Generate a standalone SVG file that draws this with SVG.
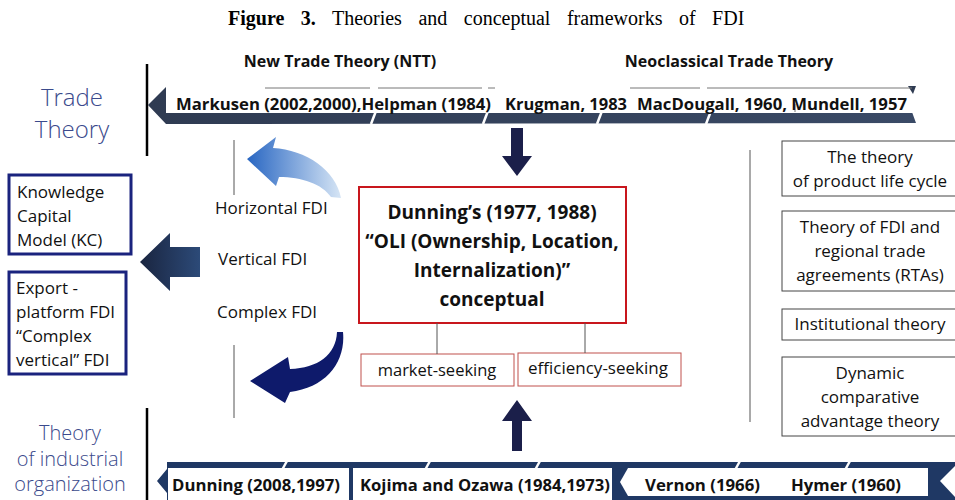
<svg xmlns="http://www.w3.org/2000/svg" width="955" height="500" viewBox="0 0 955 500">
<defs>
<style>
.t{font-family:"Open Sans","Noto Sans","Liberation Sans",sans-serif;fill:#111}
.b{font-weight:bold}
.lab{font-size:17px}
.side{font-family:"Open Sans","Noto Sans","Liberation Sans",sans-serif;fill:#3b4a8c;font-weight:300}
.rbox{fill:#fff;stroke:#444;stroke-width:1}
.bbox{fill:#fff;stroke:#1a237e;stroke-width:3}
.sbox{fill:#fff;stroke:#c0504d;stroke-width:1}
.thin{stroke:#555;stroke-width:1}
.blk{stroke:#000;stroke-width:2.5}
</style>
<linearGradient id="gLight" x1="0" y1="0" x2="1" y2="0">
<stop offset="0" stop-color="#2866c2"/>
<stop offset="1" stop-color="#d6e5f5"/>
</linearGradient>
<linearGradient id="gDark" x1="0" y1="0" x2="1" y2="0">
<stop offset="0" stop-color="#1a2540"/>
<stop offset="1" stop-color="#2c4a78"/>
</linearGradient>
<linearGradient id="gTop" x1="0" y1="0" x2="1" y2="0">
<stop offset="0" stop-color="#2f3b52"/>
<stop offset="1" stop-color="#3a4a66"/>
</linearGradient>
</defs>
<rect width="955" height="500" fill="#fff"/>

<!-- title -->
<text x="228" y="25" font-family="'Liberation Serif',serif" font-size="20" word-spacing="11.5" fill="#000"><tspan font-weight="bold">Figure 3.</tspan> Theories and conceptual frameworks of FDI</text>

<!-- side labels -->
<g id="trade-theory">
<line class="blk" x1="147" y1="64" x2="147" y2="156"/>
<text class="side" x="72" y="106" font-size="24" text-anchor="middle">Trade</text>
<text class="side" x="72" y="138" font-size="24" text-anchor="middle">Theory</text>
</g>
<g id="industrial-org">
<line class="blk" x1="147" y1="408" x2="147" y2="500"/>
<text class="side" x="70" y="440" font-size="20" text-anchor="middle">Theory</text>
<text class="side" x="70" y="466" font-size="20" text-anchor="middle">of industrial</text>
<text class="side" x="70" y="491" font-size="20" text-anchor="middle">organization</text>
</g>

<!-- headers -->
<text class="t b" x="340" y="67" font-size="16" text-anchor="middle">New Trade Theory (NTT)</text>
<text class="t b" x="729" y="67" font-size="16" text-anchor="middle">Neoclassical Trade Theory</text>

<!-- top banner -->
<g id="top-banner">
<polygon points="148,105 166,87 166,112 912,112 916,123 166,124" fill="url(#gTop)"/>
<rect x="166" y="88" width="750" height="25" fill="#fff"/>
<polygon points="908,86 916,86 913,94" fill="#2f3b52"/>
<g stroke="#fff" stroke-width="2.5">
<line x1="371" y1="124" x2="376" y2="111"/>
<line x1="483" y1="124" x2="488" y2="111"/>
<line x1="597" y1="124" x2="602" y2="111"/>
<line x1="706" y1="124" x2="711" y2="111"/>
</g>
<g stroke="#777" stroke-width="1">
<line x1="265" y1="88" x2="370" y2="88"/>
<line x1="378" y1="88" x2="482" y2="88"/>
<line x1="488" y1="88" x2="495" y2="88"/>
<line x1="630" y1="88" x2="700" y2="88"/>
<line x1="707" y1="88" x2="912" y2="88"/>
<line x1="795" y1="104" x2="795" y2="112"/>
</g>
<text class="t b" x="176" y="110" font-size="16.5" textLength="315" lengthAdjust="spacingAndGlyphs">Markusen (2002,2000),Helpman (1984)</text>
<text class="t b" x="505" y="110" font-size="16.5" textLength="122" lengthAdjust="spacingAndGlyphs">Krugman, 1983</text>
<text class="t b" x="637" y="110" font-size="16.5" textLength="270" lengthAdjust="spacingAndGlyphs">MacDougall, 1960, Mundell, 1957</text>
</g>

<!-- bottom banner -->
<g id="bottom-banner">
<polygon points="157,481 167,469 167,462 955,462 955,500 167,500 167,493" fill="#1f3864"/>
<polygon points="955,466 940,481 955,497" fill="#fff"/>
<rect x="168" y="468" width="181" height="32" fill="#fff"/>
<rect x="353" y="468" width="259" height="32" fill="#fff"/>
<polygon points="628,468 928,468 928,496 628,496 620,482" fill="#fff"/>
<polygon points="612,468 622,468 614,482 622,496 612,496 616,482" fill="#1f3864"/>
<g stroke="#fff" stroke-width="2.5">
<line x1="282" y1="470" x2="287" y2="461"/>
<line x1="425" y1="470" x2="430" y2="461"/>
<line x1="535" y1="470" x2="540" y2="461"/>
<line x1="735" y1="470" x2="740" y2="461"/>
<line x1="845" y1="470" x2="850" y2="461"/>
</g>
<text class="t b" x="172" y="491" font-size="16.5" textLength="168" lengthAdjust="spacingAndGlyphs">Dunning (2008,1997)</text>
<text class="t b" x="360" y="491" font-size="16.5" textLength="250" lengthAdjust="spacingAndGlyphs">Kojima and Ozawa (1984,1973)</text>
<text class="t b" x="645" y="491" font-size="16.5" textLength="115" lengthAdjust="spacingAndGlyphs">Vernon (1966)</text>
<text class="t b" x="791" y="491" font-size="16.5" textLength="110" lengthAdjust="spacingAndGlyphs">Hymer (1960)</text>
</g>

<!-- left boxes -->
<g id="kc">
<rect class="bbox" x="9" y="175" width="122" height="79"/>
<text class="t" x="17" y="198" font-size="17">Knowledge</text>
<text class="t" x="17" y="222" font-size="17">Capital</text>
<text class="t" x="17" y="246" font-size="17">Model (KC)</text>
</g>
<g id="export">
<rect class="bbox" x="9" y="272" width="117" height="102"/>
<text class="t" x="16" y="294" font-size="17">Export -</text>
<text class="t" x="16" y="318" font-size="17">platform FDI</text>
<text class="t" x="16" y="342" font-size="17">“Complex</text>
<text class="t" x="16" y="366" font-size="17">vertical” FDI</text>
</g>

<!-- FDI types -->
<g id="fdi-types">
<text class="t lab" x="215" y="214">Horizontal FDI</text>
<text class="t lab" x="218" y="265">Vertical FDI</text>
<text class="t lab" x="217" y="318">Complex FDI</text>
</g>

<!-- central box -->
<g id="oli">
<rect x="359" y="187" width="267" height="136" fill="#fff" stroke="#c8161d" stroke-width="2"/>
<g class="t b" font-size="19" text-anchor="middle">
<text x="492" y="219">Dunning’s (1977, 1988)</text>
<text x="492" y="248">“OLI (Ownership, Location,</text>
<text x="492" y="277">Internalization)”</text>
<text x="492" y="306">conceptual</text>
</g>
</g>
<g id="market-seeking">
<rect class="sbox" x="361" y="354" width="153" height="32"/>
<text class="t" x="437" y="376" font-size="16.5" text-anchor="middle">market-seeking</text>
</g>
<g id="efficiency-seeking">
<rect class="sbox" x="518" y="353" width="163" height="33"/>
<text class="t" x="598" y="374" font-size="17" text-anchor="middle">efficiency-seeking</text>
</g>

<!-- right boxes -->
<g id="plc">
<rect class="rbox" x="782" y="141" width="180" height="55"/>
<text class="t" x="870" y="163" font-size="17" text-anchor="middle">The theory</text>
<text class="t" x="870" y="187" font-size="17" text-anchor="middle">of product life cycle</text>
</g>
<g id="rta">
<rect class="rbox" x="782" y="211" width="180" height="80"/>
<text class="t" x="870" y="233" font-size="17" text-anchor="middle">Theory of FDI and</text>
<text class="t" x="870" y="257" font-size="17" text-anchor="middle">regional trade</text>
<text class="t" x="870" y="281" font-size="17" text-anchor="middle">agreements (RTAs)</text>
</g>
<g id="inst">
<rect class="rbox" x="782" y="309" width="180" height="31"/>
<text class="t" x="870" y="330" font-size="17" text-anchor="middle">Institutional theory</text>
</g>
<g id="dcat">
<rect class="rbox" x="782" y="357" width="180" height="79"/>
<text class="t" x="870" y="379" font-size="17" text-anchor="middle">Dynamic</text>
<text class="t" x="870" y="403" font-size="17" text-anchor="middle">comparative</text>
<text class="t" x="870" y="427" font-size="17" text-anchor="middle">advantage theory</text>
</g>

<!-- connectors -->
<g id="connectors">
<line class="thin" x1="234" y1="140" x2="234" y2="195"/>
<line class="thin" x1="234" y1="345" x2="234" y2="418"/>
<line class="thin" x1="750" y1="150" x2="750" y2="422"/>
<line class="thin" x1="437" y1="323" x2="437" y2="354"/>
<line class="thin" x1="585" y1="323" x2="585" y2="353"/>
<!-- down arrow -->
<polygon points="511,128 523,128 523,156 532,156 517,176 502,156 511,156" fill="#1b1f4a"/>
<!-- up arrow -->
<polygon points="517,400 532,421 522,421 522,451 512,451 512,421 502,421" fill="#1b1f4a"/>
<!-- big left arrow -->
<polygon points="140,262 170,233 170,247 200,247 200,277 170,277 170,291" fill="url(#gDark)"/>
<!-- light curved arrow -->
<path d="M247,159 L276,137 L273,148 C306,150 336,170 341,198 L331,197 C322,184 302,177 279,177 L276,186 Z" fill="url(#gLight)"/>
<!-- dark curved arrow -->
<path d="M343,332 C346,362 326,388 290,392 L285,403 L250,381 L288,357 L290,369 C318,368 336,355 337,332 Z" fill="#0e1a6b"/>
</g>
</svg>
